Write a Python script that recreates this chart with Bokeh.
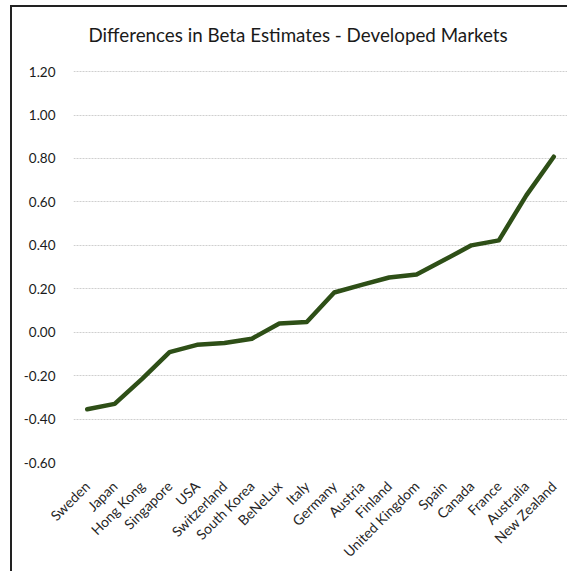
import math
from bokeh.plotting import figure
from bokeh.models import FixedTicker, NumeralTickFormatter, Label
from bokeh.embed import file_html
from bokeh.resources import INLINE

countries = ["Sweden", "Japan", "Hong Kong", "Singapore", "USA", "Switzerland",
             "South Korea", "BeNeLux", "Italy", "Germany", "Austria", "Finland",
             "United Kingdom", "Spain", "Canada", "France", "Australia", "New Zealand"]
beta_diff = [-0.355, -0.33, -0.215, -0.092, -0.058, -0.05,
             -0.03, 0.04, 0.047, 0.183, 0.218, 0.252,
             0.266, 0.332, 0.40, 0.423, 0.63, 0.808]
y_ticks = [-0.6, -0.4, -0.2, 0.0, 0.2, 0.4, 0.6, 0.8, 1.0, 1.2]
title_text = "Differences in Beta Estimates - Developed  Markets"

FONT = "Lato"

# frame extends above the top gridline so the title can sit inside it
p = figure(x_range=countries, y_range=(-0.6, 1.44), width=557, height=566,
           output_backend="svg", toolbar_location=None,
           min_border_left=61, min_border_right=2, min_border_top=12, min_border_bottom=111)
p.x_range.range_padding = 0
p.styles = {"border-left": "2px solid #222222", "border-top": "2px solid #222222",
            "margin-left": "10px", "margin-top": "5px"}

title = Label(x=0, y=1.37, x_offset=15, text=title_text,
              text_font=FONT, text_font_size="18.8px", text_color="#1a1a1a",
              text_baseline="middle", text_align="left")
p.add_layout(title)

p.line(countries, beta_diff, line_color="#2e4f17", line_width=4.5,
       line_join="round", line_cap="round")

p.outline_line_color = None
p.background_fill_color = "white"
p.border_fill_color = "white"

p.xgrid.grid_line_color = None
p.ygrid.ticker = FixedTicker(ticks=y_ticks)
p.ygrid.grid_line_color = "#cfcfcf"
p.ygrid.grid_line_dash = "2 1"
p.ygrid.grid_line_width = 1

p.yaxis.ticker = FixedTicker(ticks=y_ticks)
p.yaxis.formatter = NumeralTickFormatter(format="0.00")
p.yaxis.axis_line_color = None
p.yaxis.major_tick_line_color = None
p.yaxis.minor_tick_line_color = None
p.yaxis.major_label_standoff = 12
p.yaxis.major_label_text_font = FONT
p.yaxis.major_label_text_font_size = "13.5px"
p.yaxis.major_label_text_color = "#1a1a1a"

p.xaxis.axis_line_color = None
p.xaxis.major_tick_line_color = None
p.xaxis.minor_tick_line_color = None
p.xaxis.major_label_orientation = math.pi / 4
p.xaxis.major_label_standoff = 15
p.xaxis.major_label_text_font = FONT
p.xaxis.major_label_text_font_size = "14px"
p.xaxis.major_label_text_color = "#262626"

open("out.html", "w").write(file_html(p, INLINE))
